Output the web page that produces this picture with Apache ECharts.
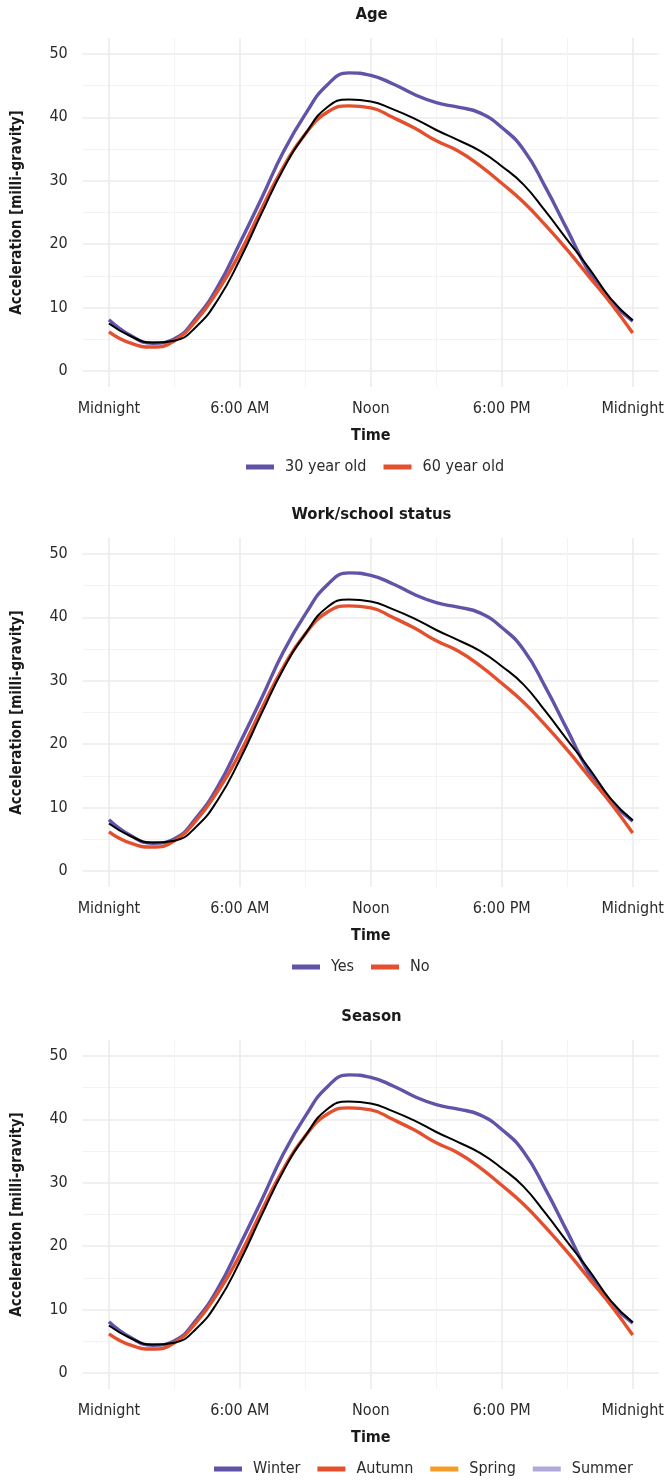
<!DOCTYPE html>
<html>
<head>
<meta charset="utf-8">
<script src="https://cdn.jsdelivr.net/npm/echarts@6/dist/echarts.min.js"></script>
<style>
html,body{margin:0;padding:0;background:#fff;}
#chart{width:667px;height:1480px;}
</style>
</head>
<body>
<div id="chart"></div>
<script>
// ---- data ----
const hours = [0,1,2,3,4,5,6,7,8,9,10,11,12,13,14,15,16,17,18,19,20,21,22,23,24];
const groupA = [8.1,5.6,4.4,5.1,8.4,13.4,20.2,27.3,34.6,40.5,45.1,47.0,46.6,45.3,43.6,42.3,41.6,40.7,38.4,34.9,29.0,22.3,15.6,11.0,7.9];
const groupB = [6.2,4.4,3.8,4.8,8.0,12.7,18.6,25.6,32.2,37.4,40.8,41.8,41.5,40.0,38.3,36.3,34.7,32.4,29.6,26.6,23.0,19.1,14.9,10.7,6.0];
const overall = [7.5,5.5,4.5,4.8,7.0,11.3,17.6,24.9,31.9,37.4,41.6,42.8,42.5,41.3,39.8,38.0,36.4,34.7,32.3,29.4,25.2,20.7,16.2,11.4,8.0];
const empty = [];
const tickHours = [0,6,12,18,24];
const tickLabels = ['Midnight','6:00 AM','Noon','6:00 PM','Midnight'];
const yTicks = [0,10,20,30,40,50];
const panelTitles = ['Age','Work/school status','Season'];
const panelGroups = [
  [['30 year old', groupA], ['60 year old', groupB]],
  [['Yes', groupA], ['No', groupB]],
  [['Winter', groupA], ['Autumn', groupB], ['Spring', empty], ['Summer', empty]]
];
const groupColors = ['#6153a7','#e4502d','#f49c2a','#b1a9da'];

// ---- layout ----
const FONT = "'DejaVu Sans Condensed','Liberation Sans Narrow','Open Sans',sans-serif";
const gridTops = [38, 538, 1040];
const gridH = 349;
const legendLefts = [246, 292, 214];
const MAJOR = '#ebebeb', MINOR = '#f2f2f2', NONE = 'rgba(0,0,0,0)';

function pair(vals){ return vals.map((v,i)=>[hours[i], v]); }

const grids=[], xAxes=[], yAxes=[], series=[], titles=[], legends=[];
gridTops.forEach((top, p) => {
  grids.push({left: 82.75, right: 6.75, top: top, height: gridH, containLabel: false});
  const xColMajor = []; const xColMinor = [];
  for (let i=0;i<10;i++){ xColMajor.push(i===2?MAJOR:NONE); xColMinor.push(i===7?MINOR:NONE); }
  xAxes.push({
    type:'value', gridIndex:p, min:-1.2, max:25.2, interval:0.6,
    name:'Time', nameLocation:'middle', nameGap:41,
    nameTextStyle:{fontFamily:FONT, fontWeight:'bold', fontSize:16, color:'#1a1a1a'},
    axisLine:{show:false}, axisTick:{show:false},
    axisLabel:{margin:14, fontFamily:FONT, fontSize:16, color:'#2b2b2b',
      formatter: v => { const k = tickHours.findIndex(h => Math.abs(h - v) < 1e-6); return k>=0 ? tickLabels[k] : ''; }},
    splitLine:{show:true, lineStyle:{color:xColMajor, width:1.6}}
  });
  xAxes.push({
    type:'value', gridIndex:p, min:-1.2, max:25.2, interval:0.6, position:'bottom',
    axisLine:{show:false}, axisTick:{show:false}, axisLabel:{show:false},
    splitLine:{show:true, lineStyle:{color:xColMinor, width:0.9}}
  });
  yAxes.push({
    type:'value', gridIndex:p, min:-2.5, max:52.5, interval:2.5,
    name:'Acceleration [milli-gravity]', nameLocation:'middle', nameGap:58,
    nameTextStyle:{fontFamily:FONT, fontWeight:'bold', fontSize:15, color:'#1a1a1a'},
    axisLine:{show:false}, axisTick:{show:false},
    axisLabel:{margin:15, fontFamily:FONT, fontSize:16, color:'#2b2b2b',
      formatter: v => { const k = yTicks.findIndex(t => Math.abs(t - v) < 1e-6); return k>=0 ? String(yTicks[k]) : ''; }},
    splitLine:{show:true, lineStyle:{color:[NONE,MAJOR,NONE,NONE], width:1.6}}
  });
  yAxes.push({
    type:'value', gridIndex:p, min:-2.5, max:52.5, interval:2.5, position:'left',
    axisLine:{show:false}, axisTick:{show:false}, axisLabel:{show:false},
    splitLine:{show:true, lineStyle:{color:[NONE,NONE,NONE,MINOR], width:0.9}}
  });
  titles.push({text: panelTitles[p], left: 371.5, top: top - 32, textAlign:'center', padding:0,
    textStyle:{fontFamily:FONT, fontWeight:'bold', fontSize:16.5, color:'#1a1a1a'}});
  const names = [];
  panelGroups[p].forEach((g, gi) => {
    names.push(g[0]);
    series.push({name:g[0], type:'line', xAxisIndex:2*p, yAxisIndex:2*p, data: pair(g[1]),
      smooth:0.5, showSymbol:false, symbol:'none', z: 3,
      lineStyle:{color:groupColors[gi], width:3.4}, itemStyle:{color:groupColors[gi]}});
  });
  series.push({name:'overall'+p, type:'line', xAxisIndex:2*p, yAxisIndex:2*p, data: pair(overall),
    smooth:0.5, showSymbol:false, symbol:'none', z: 4,
    lineStyle:{color:'#000', width:2}, itemStyle:{color:'#000'}});
  legends.push({data: names, left: legendLefts[p], top: top + gridH + 72, icon:'rect',
    itemWidth:28, itemHeight:5, itemGap:17, selectedMode:false, padding:0,
    textStyle:{fontFamily:FONT, fontSize:16, color:'#2b2b2b', padding:[0,0,0,6]}});
});

const chart = echarts.init(document.getElementById('chart'), null, {renderer:'canvas'});
chart.setOption({
  animation:false,
  backgroundColor:'#ffffff',
  title: titles, grid: grids, xAxis: xAxes, yAxis: yAxes, legend: legends, series: series
});
</script>
</body>
</html>
